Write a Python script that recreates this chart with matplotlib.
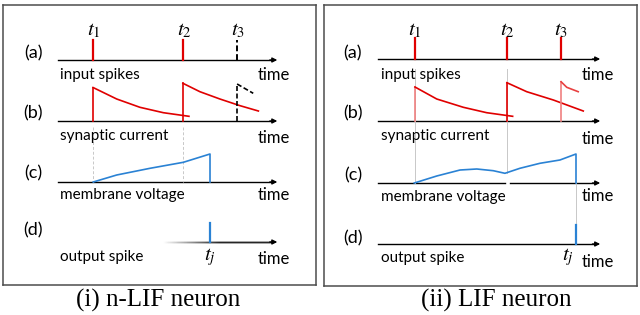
"""
Schematic: n-LIF vs LIF neuron (input spikes, synaptic current, membrane voltage, output spike).
Time units: the time axis of each panel runs from 0 to 10; heights are in pixels above a row baseline.
"""
import matplotlib.pyplot as plt
import numpy as np
from matplotlib.collections import LineCollection

plt.rcParams["mathtext.fontset"] = "stix"

RED = "#e00000"
BLUE = "#2a82d4"
GUIDE = "#c8c8c8"

ROW_LABELS = ["(a)", "(b)", "(c)", "(d)"]
ROW_NAMES = ["input spikes", "synaptic current", "membrane voltage", "output spike"]

# ---- (i) n-LIF neuron ----
NLIF_SPIKES = [1.63, 5.81]          # solid input spikes t1, t2
NLIF_SPIKE_DASHED = 8.33            # t3 (dashed, ignored)
NLIF_TJ = 7.07
NLIF_CUR1_T = [1.63, 2.73, 3.81, 4.90, 6.09]
NLIF_CUR1_H = [33.5, 22.0, 13.7, 8.3, 4.7]
NLIF_CUR2_T = [5.81, 6.60, 7.53, 8.47, 9.32]
NLIF_CUR2_H = [37.7, 29.3, 22.0, 15.3, 10.0]
NLIF_CUR3_T = [8.33, 9.08]
NLIF_CUR3_H = [37.0, 27.7]
NLIF_VOLT_T = [1.64, 2.73, 4.28, 5.83, 7.07, 7.07]
NLIF_VOLT_H = [0.0, 7.0, 13.7, 19.7, 28.0, 0.0]

# ---- (ii) LIF neuron ----
LIF_SPIKES = [1.68, 5.86, 8.32]
LIF_TJ = 9.0
LIF_CUR1_T = [1.68, 2.67, 3.88, 4.94, 6.12]
LIF_CUR1_H = [34.0, 22.0, 13.7, 8.3, 4.7]
LIF_CUR2_T = [5.86, 6.76, 7.97, 9.33]
LIF_CUR2_H = [38.3, 29.3, 21.0, 10.0]
LIF_CUR3_T = [8.32, 8.58, 9.10]
LIF_CUR3_H = [39.3, 33.7, 29.3]
LIF_VOLT_T = [1.65, 2.67, 3.73, 4.49, 5.24, 5.77, 6.45, 7.36, 8.27, 9.0, 9.0]
LIF_VOLT_H = [0.0, 7.0, 13.0, 14.0, 12.3, 9.7, 14.7, 19.7, 23.0, 29.0, 0.0]

FS = 11
FONT = "Lato"


def make_panel(fig, box, xlim):
    x0, y0, x1, y1 = box
    ax = fig.add_axes([x0 / 640, 1 - y1 / 315, (x1 - x0) / 640, (y1 - y0) / 315])
    ax.set_xlim(*xlim)
    ax.set_ylim(y1 - y0, 0)
    ax.set_xticks([])
    ax.set_yticks([])
    for s in ax.spines.values():
        s.set_color("#4d4d4d")
        s.set_linewidth(1.1)
    return ax


def time_axis(ax, y, x_start=0.0, x_end=10.0, gap=None, fade=False):
    if fade:
        xs = np.linspace(x_start, x_end - 0.3, 120)
        segs = [[(xs[i], y), (xs[i + 1], y)] for i in range(len(xs) - 1)]
        g = np.clip(np.linspace(1.0, -0.6, len(segs)), 0.15, 1.0)
        ax.add_collection(LineCollection(segs, colors=[(c, c, c) for c in g],
                                         linewidths=1.0, capstyle="projecting"))
    elif gap is not None:
        ax.plot([x_start, gap[0]], [y, y], color="black", lw=1.0)
        ax.plot([gap[1], x_end - 0.3], [y, y], color="black", lw=1.0)
    else:
        ax.plot([x_start, x_end - 0.3], [y, y], color="black", lw=1.0)
    ax.annotate("", xy=(x_end, y), xytext=(x_end - 0.35, y),
                arrowprops=dict(arrowstyle="-|>", color="black", lw=1.0,
                                mutation_scale=7, shrinkA=0, shrinkB=0))


def curve(ax, base, t, h, color, vcolor=None, **kw):
    ax.plot([t[0], t[0]], [base, base - h[0]], color=vcolor or color, lw=1.2, **kw)
    ax.plot(t, [base - v for v in h], color=color, lw=1.2, **kw)


def labels(ax, lab_x, name_x, time_x, ys):
    for lab, name, (ly, ny, ty) in zip(ROW_LABELS, ROW_NAMES, ys):
        ax.text(lab_x, ly, lab, ha="center", va="center", fontsize=13, family=FONT)
        ax.text(name_x, ny, name, ha="left", va="center", fontsize=FS, family=FONT)
        ax.text(time_x, ty, "time", ha="left", va="center", fontsize=FS + 1, family=FONT)


fig = plt.figure(figsize=(6.4, 3.15), dpi=100)

# ---------------- (i) n-LIF ----------------
ax = make_panel(fig, (3, 5, 316, 285), ((3 - 58) / 21.5, (316 - 58) / 21.5))
base = [55, 116, 177, 237]
for b in base[:3]:
    time_axis(ax, b, x_end=10.2)
time_axis(ax, base[3], x_start=4.88, x_end=10.2, fade=True)

for t in NLIF_SPIKES[:2]:
    ax.plot([t, t], [base[1] + 6, base[2]], color=GUIDE, lw=0.7, ls=(0, (3, 2)))
for t in NLIF_SPIKES:
    ax.plot([t, t], [base[0], base[0] - 20], color=RED, lw=1.6)
ax.plot([NLIF_SPIKE_DASHED] * 2, [base[0], base[0] - 20], color="black", lw=1.4, ls=(0, (3, 1.5)))
for t, s in zip(NLIF_SPIKES + [NLIF_SPIKE_DASHED], ["$t_1$", "$t_2$", "$t_3$"]):
    ax.text(t + 0.05, 25, s, ha="center", va="center", fontsize=15)

curve(ax, base[1], NLIF_CUR1_T, NLIF_CUR1_H, RED)
curve(ax, base[1], NLIF_CUR2_T, NLIF_CUR2_H, RED)
curve(ax, base[1], NLIF_CUR3_T, NLIF_CUR3_H, "black", ls=(0, (3, 1.5)))
ax.plot(NLIF_VOLT_T, [base[2] - v for v in NLIF_VOLT_H], color=BLUE, lw=1.2)
ax.plot([NLIF_TJ, NLIF_TJ], [base[3], base[3] - 19], color=BLUE, lw=1.6)
ax.text(NLIF_TJ, 252, "$t_j$", ha="center", va="center", fontsize=15)
labels(ax, -1.16, 0.09, 9.3,
       [(48, 70, 70), (108, 131, 133), (168, 190, 190), (225, 252, 254)])

# ---------------- (ii) LIF ----------------
ax = make_panel(fig, (324, 5, 637, 286), ((324 - 378) / 22, (637 - 378) / 22))
base = [54, 116, 178, 239]
time_axis(ax, base[0], x_end=10.1)
time_axis(ax, base[1], x_end=10.1)
time_axis(ax, base[2], x_end=10.1, gap=(5.77, 6.0))
time_axis(ax, base[3], x_end=10.1)

ax.plot([LIF_SPIKES[0]] * 2, [base[0] + 10, base[2]], color=GUIDE, lw=0.7)
ax.plot([LIF_SPIKES[1]] * 2, [base[0] + 10, base[2] - 10], color=GUIDE, lw=0.7)
ax.plot([LIF_TJ] * 2, [base[2], base[3] - 19], color=GUIDE, lw=0.7)
for t in LIF_SPIKES:
    ax.plot([t, t], [base[0], base[0] - 21], color=RED, lw=1.6)
for t, s in zip(LIF_SPIKES, ["$t_1$", "$t_2$", "$t_3$"]):
    ax.text(t, 25, s, ha="center", va="center", fontsize=15)

curve(ax, base[1], LIF_CUR1_T, LIF_CUR1_H, RED, vcolor="#f08080")
curve(ax, base[1], LIF_CUR2_T, LIF_CUR2_H, RED)
curve(ax, base[1], LIF_CUR3_T, LIF_CUR3_H, "#e84040", vcolor="#f08080")
ax.plot(LIF_VOLT_T, [base[2] - v for v in LIF_VOLT_H], color=BLUE, lw=1.2)
ax.plot([LIF_TJ, LIF_TJ], [base[3], base[3] - 19], color=BLUE, lw=1.6)
ax.text(LIF_TJ - 0.35, 252, "$t_j$", ha="center", va="center", fontsize=15)
labels(ax, -1.14, 0.14, 9.27,
       [(48, 70, 70), (108, 131, 134), (170, 192, 191), (233, 253, 257)])

# captions
fig.text(158 / 640, 1 - 300 / 315, "(i) n-LIF neuron", ha="center", va="center",
         fontsize=18, family="Liberation Serif")
fig.text(496 / 640, 1 - 300 / 315, "(ii) LIF neuron", ha="center", va="center",
         fontsize=18, family="Liberation Serif")

fig.savefig("out.png", dpi=100)
